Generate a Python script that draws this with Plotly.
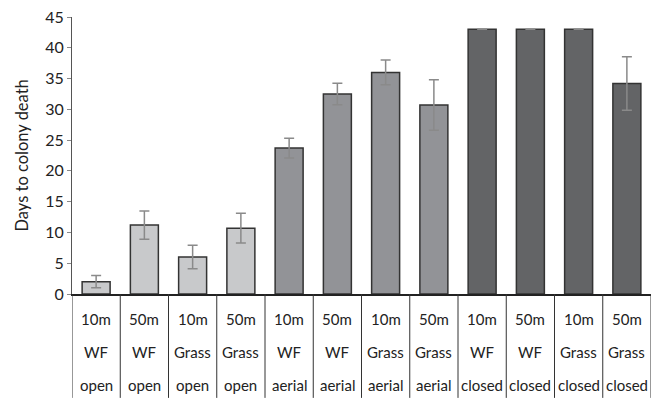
import plotly.graph_objects as go

distances = ["10m", "50m", "10m", "50m", "10m", "50m", "10m", "50m", "10m", "50m", "10m", "50m"]
habitats = ["WF", "WF", "Grass", "Grass", "WF", "WF", "Grass", "Grass", "WF", "WF", "Grass", "Grass"]
treatments = ["open", "open", "open", "open", "aerial", "aerial", "aerial", "aerial",
              "closed", "closed", "closed", "closed"]
days = [2.0, 11.2, 6.0, 10.7, 23.7, 32.5, 36.0, 30.7, 43.0, 43.0, 43.0, 34.2]
errors = [1.0, 2.3, 1.9, 2.4, 1.6, 1.75, 2.0, 4.1, 0.0, 0.0, 0.0, 4.35]
treatment_colors = {"open": "#c8c9cb", "aerial": "#929397", "closed": "#636466"}

xs = list(range(len(days)))
colors = [treatment_colors[t] for t in treatments]

fig = go.Figure()
fig.add_trace(go.Bar(
    x=xs, y=days, width=0.58,
    marker=dict(color=colors, line=dict(color="#333333", width=1.5)),
    error_y=dict(type="data", array=errors, visible=True, color="#8a8a8a",
                 thickness=1.5, width=5),
    hoverinfo="skip",
))

font = "Lato, Open Sans, sans-serif"
rows = [(distances, -0.09), (habitats, -0.209), (treatments, -0.329)]
for labels, yp in rows:
    for i, lab in enumerate(labels):
        fig.add_annotation(x=i, y=yp, xref="x", yref="paper", text=lab,
                           showarrow=False, font=dict(size=15, color="#222222", family=font),
                           xanchor="center", yanchor="middle")
for i in range(len(days) + 1):
    fig.add_shape(type="line", x0=i - 0.5, x1=i - 0.5, xref="x", yref="paper",
                  y0=0, y1=-0.375, line=dict(color="#333333", width=1))

fig.add_annotation(x=-0.088, xref="paper", y=0.5, yref="paper", text="Days to colony death",
                   textangle=-90, showarrow=False, xanchor="center", yanchor="middle",
                   font=dict(size=16.5, color="#222222", family=font))

fig.update_layout(
    width=662, height=403,
    margin=dict(l=72, r=11, t=17, b=109),
    plot_bgcolor="white", paper_bgcolor="white",
    showlegend=False,
    font=dict(family=font, size=15, color="#222222"),
    xaxis=dict(range=[-0.5, len(days) - 0.5], showticklabels=False, showgrid=False,
               zeroline=False, showline=True, linecolor="#222222", linewidth=2,
               ticks="", automargin=False, fixedrange=True),
    yaxis=dict(range=[0, 45], dtick=5, showgrid=False, zeroline=False,
               showline=True, linecolor="#555555", linewidth=1,
               ticks="outside", ticklen=4, tickcolor="#888888",
               tickfont=dict(size=16), automargin=False, fixedrange=True),
)

fig.write_html("out.html", config={"displayModeBar": False},
               post_script="document.body.style.margin='0';")
